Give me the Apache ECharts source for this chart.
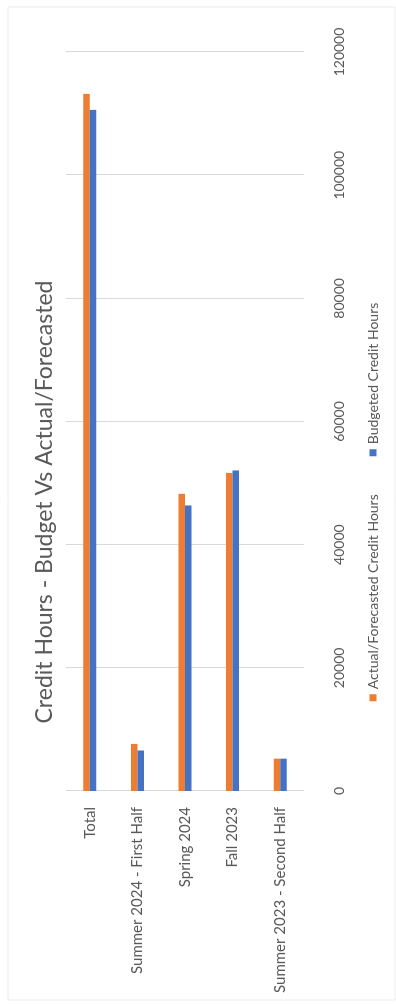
<!DOCTYPE html>
<html>
<head>
<meta charset="utf-8">
<style>
  html, body { margin: 0; padding: 0; background: #fff; overflow: hidden; }
  #wrap { width: 396px; height: 1004px; position: relative; }
  /* chart is laid out as a normal horizontal bar chart, then turned on its side */
  #chart-container {
    position: absolute; left: 0; top: 0;
    width: 1004px; height: 396px;
    transform-origin: 0 0;
    transform: translateY(1004px) rotate(-90deg);
  }
</style>
<script src="https://cdn.jsdelivr.net/npm/echarts@6/dist/echarts.min.js"></script>
</head>
<body>
<div id="wrap"><div id="chart-container"></div></div>
<script>
var categories = ['Total', 'Summer 2024 - First Half', 'Spring 2024', 'Fall 2023', 'Summer 2023 - Second Half'];
var actualHours = [113200, 7650, 48250, 51650, 5250];
var budgetHours = [110600, 6580, 46370, 52050, 5250];
var seriesNames = ['Actual/Forecasted Credit Hours', 'Budgeted Credit Hours'];

var dom = document.getElementById('chart-container');
var myChart = echarts.init(dom, null, { renderer: 'canvas' });

var font = 'Lato, "Open Sans", sans-serif';
var option = {
  animation: false,
  color: ['#ED7D31', '#4472C4'],
  title: {
    text: 'Credit Hours - Budget Vs Actual/Forecasted',
    left: 'center',
    top: 28,
    textStyle: { fontFamily: font, fontSize: 23, fontWeight: 'normal', color: '#595959' },
  },
  legend: {
    data: seriesNames,
    top: 361,
    left: 'center',
    icon: 'rect',
    itemWidth: 7,
    itemHeight: 7,
    itemGap: 38,
    textStyle: { fontFamily: font, fontSize: 14, color: '#595959' },
  },
  grid: { left: 213, right: 52, top: 66, bottom: 92 },
  xAxis: {
    type: 'value',
    min: 0,
    max: 120000,
    interval: 20000,
    axisLine: { show: false },
    axisTick: { show: false },
    axisLabel: {
      fontFamily: font, fontSize: 14, color: '#595959', margin: 28,
      formatter: function (v) { return String(v); },
    },
    splitLine: { lineStyle: { color: '#d9d9d9', width: 1 } },
  },
  yAxis: {
    type: 'category',
    data: categories,
    inverse: true,
    axisLine: { show: false },
    axisTick: { show: false },
    axisLabel: { fontFamily: font, fontSize: 15, color: '#595959', margin: 16 },
  },
  series: [
    { name: seriesNames[0], type: 'bar', data: actualHours, barWidth: 6.5, barGap: '0%' },
    { name: seriesNames[1], type: 'bar', data: budgetHours, barWidth: 6.5, barGap: '0%' },
  ],
  graphic: [
    {
      type: 'rect',
      shape: { x: 4, y: 8, width: 993, height: 387 },
      style: { fill: 'none', stroke: '#ececec', lineWidth: 1 },
      silent: true,
    },
  ],
};

myChart.setOption(option);
window.addEventListener('resize', myChart.resize);
</script>
</body>
</html>
